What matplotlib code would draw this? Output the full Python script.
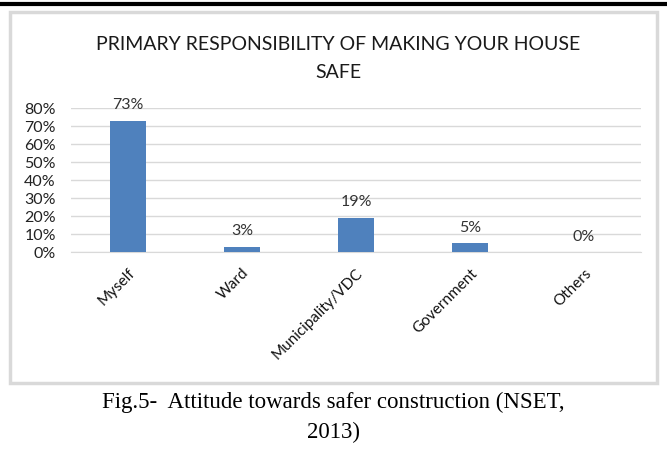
import matplotlib.pyplot as plt
from matplotlib.patches import Rectangle
from matplotlib.lines import Line2D

categories = ['Myself', 'Ward', 'Municipality/VDC', 'Government', 'Others']
values = [73, 3, 19, 5, 0]
yticks = [0, 10, 20, 30, 40, 50, 60, 70, 80]

W, H = 667, 461
fig = plt.figure(figsize=(W / 100, H / 100), dpi=100)
fig.patch.set_facecolor('white')

# black rule at the very top
fig.add_artist(Line2D([0, 1], [1 - 4 / H, 1 - 4 / H], color='black', lw=3,
                      transform=fig.transFigure))
# gray chart frame
fig.add_artist(Rectangle((10 / W, 1 - 383 / H), 647 / W, 371 / H,
                         transform=fig.transFigure, fill=False,
                         edgecolor='#d9d9d9', lw=2.5))

ax = fig.add_axes([71 / W, 1 - 252 / H, 570 / W, 144 / H])
x = range(len(categories))
ax.bar(x, values, width=0.32, color='#4f81bd', zorder=3)
for xi, v in zip(x, values):
    ax.annotate(f'{v}%', (xi, v), xytext=(0, 6), textcoords='offset points',
                ha='center', va='bottom', fontsize=11.5, color='#333333',
                family='Lato')

ax.set_xlim(-0.5, len(categories) - 0.5)
ax.set_ylim(0, 80)
ax.set_yticks(yticks)
ax.set_yticklabels([f'{t}%' for t in yticks], fontsize=11.5, color='#222222',
                   family='Lato')
ax.set_xticks(list(x))
ax.set_xticklabels(categories, rotation=45, ha='right', rotation_mode='anchor',
                   fontsize=11, color='#111111', family='Lato')
ax.tick_params(axis='y', length=0, pad=11)
ax.tick_params(axis='x', length=0, pad=10)
ax.grid(axis='y', color='#d9d9d9', lw=1, zorder=0)
for s in ax.spines.values():
    s.set_visible(False)
ax.spines['bottom'].set_visible(True)
ax.spines['bottom'].set_color('#d9d9d9')

fig.text(338 / W, 1 - 45 / H, 'PRIMARY RESPONSIBILITY OF MAKING YOUR HOUSE',
         ha='center', va='center', fontsize=14, color='#1a1a1a', family='Lato')
fig.text(338 / W, 1 - 72 / H, 'SAFE', ha='center', va='center',
         fontsize=14, color='#1a1a1a', family='Lato')

fig.text(333 / W, 1 - 402 / H, 'Fig.5-  Attitude towards safer construction (NSET,',
         ha='center', va='center', fontsize=16.5, family='Liberation Serif')
fig.text(333 / W, 1 - 432 / H, '2013)', ha='center', va='center', fontsize=16.5,
         family='Liberation Serif')

fig.savefig('out.png', dpi=100)
